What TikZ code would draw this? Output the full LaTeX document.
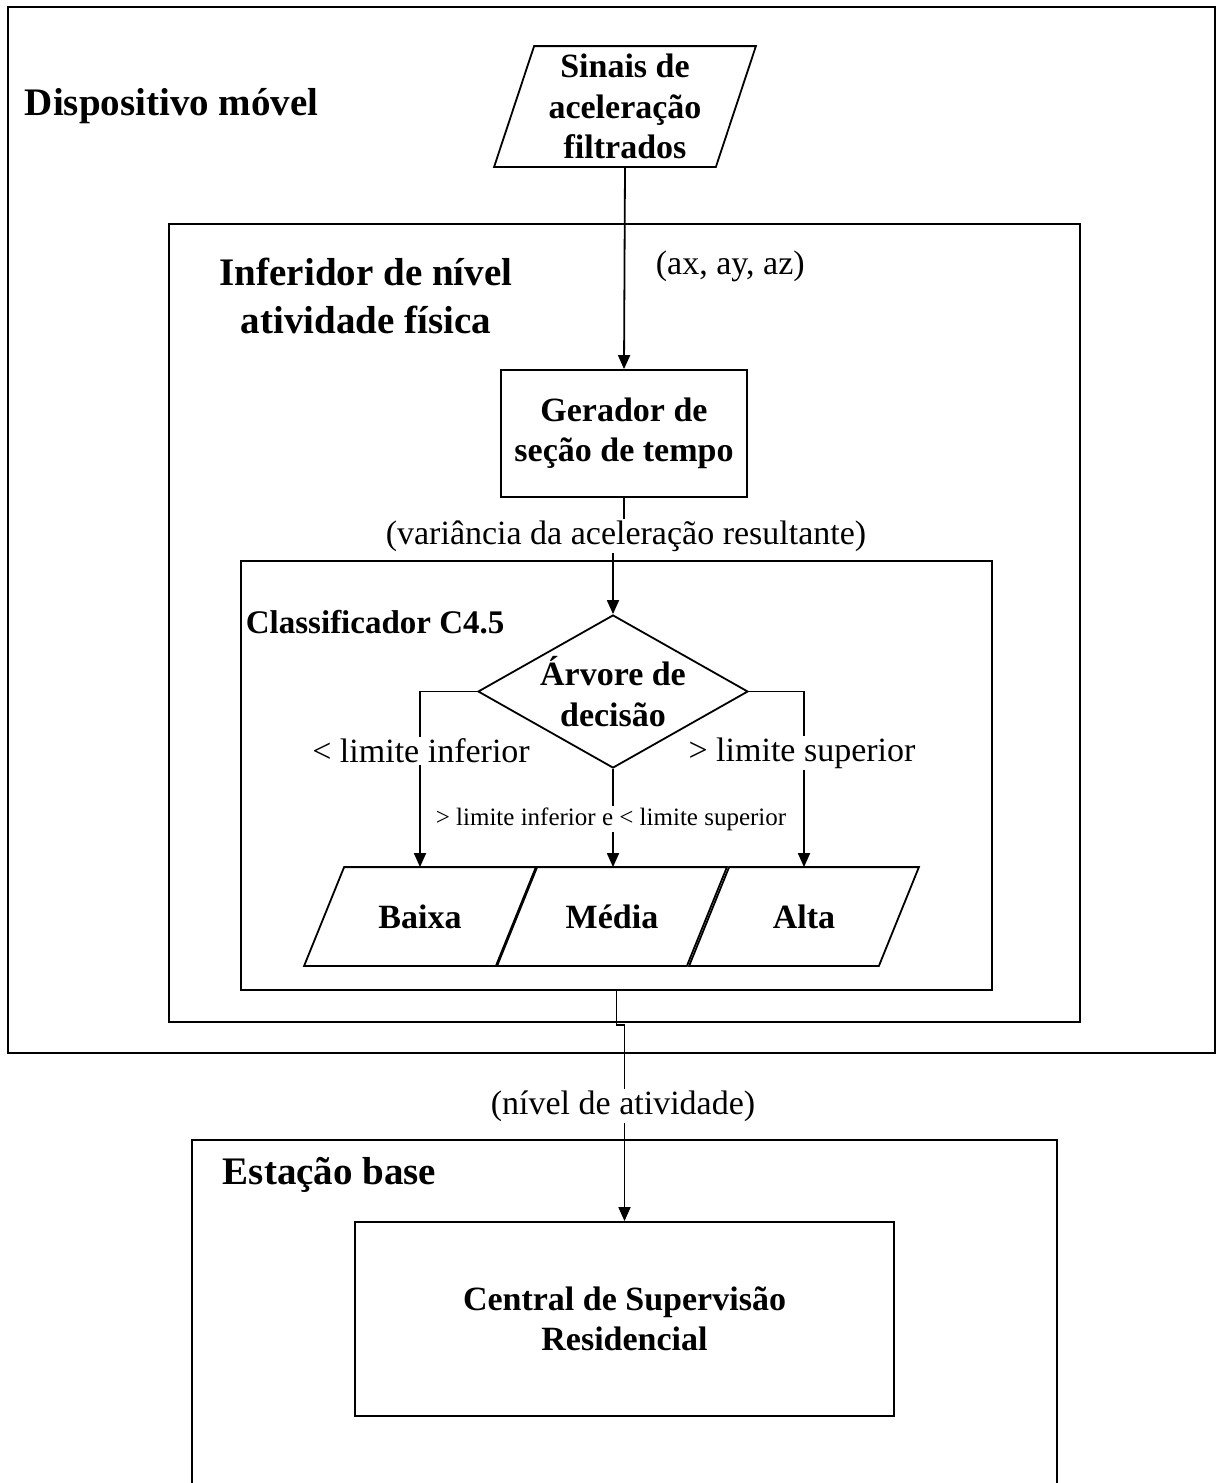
\documentclass[tikz,border=0pt]{standalone}
\usepackage{fontspec}
\setmainfont{Liberation Serif}
\usetikzlibrary{shapes.geometric,arrows.meta,calc}
\newcommand\drawpara[1]{\draw ([xshift=20pt]#1.north west) -- ([xshift=20pt]#1.north east) -- ([xshift=-20pt]#1.south east) -- ([xshift=-20pt]#1.south west) -- cycle;}
\begin{document}
\begin{tikzpicture}[x=1pt,y=-1pt,line width=1.8pt,
  box/.style={draw, rectangle, inner sep=0pt},
  tb/.style={font=\fontsize{34}{40.5}\selectfont\bfseries, align=center, inner sep=0pt},
  tr/.style={font=\fontsize{34}{40}\selectfont},
  hd/.style={font=\fontsize{39}{48}\selectfont\bfseries, align=center, inner sep=0pt},
  lbl/.style={tr, fill=white, inner sep=2pt},
  arr/.style={-{Triangle[length=14pt,width=12pt]}}]
\useasboundingbox (0,0) rectangle (1216,1483);
% containers
\node[box, minimum width=1207pt, minimum height=1046pt] (outer) at (611.5,530) {};
\node[box, minimum width=911pt, minimum height=798pt] (infer) at (624.5,623) {};
\node[box, minimum width=751pt, minimum height=429pt] (clf) at (616.5,775.5) {};
\draw (192,1483) -- (192,1140) -- (1057,1140) -- (1057,1483);
% titles
\node[hd, anchor=west] (tdisp) at (24,106) {Dispositivo móvel};
\node[hd] (tinfer) at (366,296) {Inferidor de nível\\atividade física};
\node[font=\fontsize{33}{40}\selectfont\bfseries, inner sep=0pt, anchor=west] (tclf) at (245,622) {Classificador C4.5};
\node[hd, anchor=west] (test) at (222,1175) {Estação base};
% shapes
\node[tb, minimum width=220pt, minimum height=119pt] (sinais) at (625,106.5) {Sinais de\\aceleração\\filtrados};
\drawpara{sinais}
\node[box, tb, minimum width=246pt, minimum height=127pt] (gerador) at (624,433.5) {Gerador de\\seção de tempo};
\node[draw, diamond, tb, minimum width=270pt, minimum height=153pt, aspect=1.76] (arvore) at (613,691.5) {Árvore de\\decisão};
\node[tb, minimum width=190pt, minimum height=97pt] (baixa) at (420,916.5) {Baixa};
\drawpara{baixa}
\node[tb, minimum width=188pt, minimum height=97pt] (media) at (612,916.5) {Média};
\drawpara{media}
\node[tb, minimum width=188pt, minimum height=97pt] (alta) at (804,916.5) {Alta};
\drawpara{alta}
\node[box, tb, minimum width=539pt, minimum height=194pt] (central) at (624.5,1319) {Central de Supervisão\\Residencial};
% connectors
\draw[arr] (sinais.south) -- (gerador.north);
\draw[arr] (gerador.south) -- ++(0,37) -| (arvore.north);
\draw[arr] (arvore.west) -| (baixa.north);
\draw[arr] (arvore.east) -| (alta.north);
\draw[arr] (arvore.south) -- (arvore.south |- media.north);
\draw[arr] (clf.south) -- ++(0,34) -| (central.north);
% labels
\node[tr, anchor=west, inner sep=0pt] (lxyz) at (655,266) {(ax, ay, az)};
\node[lbl] (lvar) at (626,536) {(variância da aceleração resultante)};
\node[lbl] (linf) at (421,751) {< limite inferior};
\node[lbl] (lsup) at (802,753) {> limite superior};
\node[lbl, font=\fontsize{25}{30}\selectfont] (lmid) at (611,819) {> limite inferior e < limite superior};
\node[lbl] (lniv) at (623,1106) {(nível de atividade)};
\end{tikzpicture}
\end{document}
